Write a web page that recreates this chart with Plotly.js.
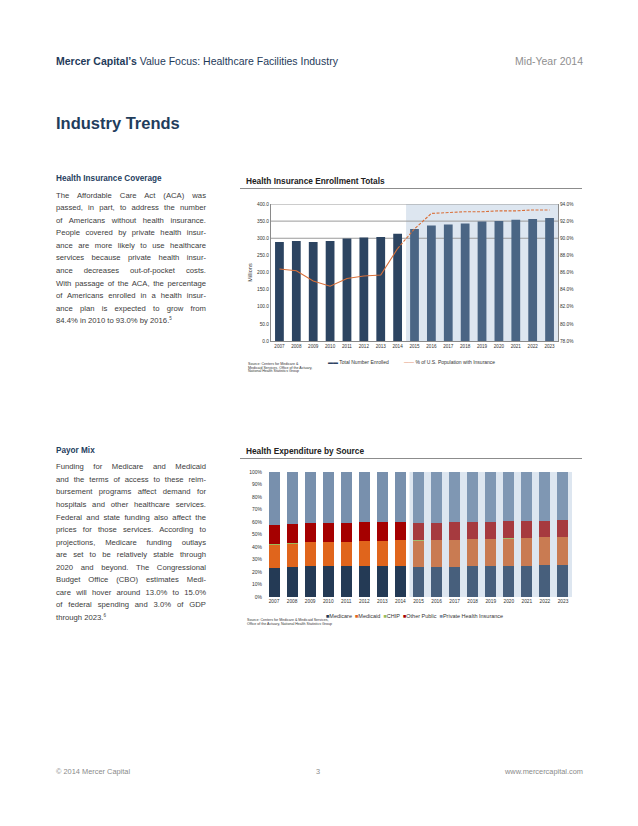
<!DOCTYPE html>
<html>
<head>
<meta charset="utf-8">
<script src="https://cdn.plot.ly/plotly-3.0.1.min.js"></script>
<style>
  html, body { margin:0; padding:0; background:#fff; }
  body { width:638px; height:826px; position:relative; overflow:hidden; font-family:"Liberation Sans", Arial, sans-serif; }
  .abs { position:absolute; white-space:nowrap; }
  .hdr { color:#1f3b5a; font-size:10.5px; line-height:12px; }
  .sec { color:#1f4060; font-weight:bold; font-size:8.2px; line-height:10px; }
  .body { position:absolute; left:56px; width:150px; color:#3c3c3c; font-size:7.7px; }
  .body div { height:12.55px; line-height:12.55px; text-align:justify; text-align-last:justify; white-space:nowrap; }
  .body div.last { text-align-last:left; }
  .ctitle { color:#222; font-weight:bold; font-size:8.3px; line-height:10px; }
  .rule { position:absolute; height:1px; background:#8c8c8c; }
  .src { color:#333; font-size:3.6px; line-height:3.4px; }
  .foot { color:#8a8a8a; font-size:7.4px; line-height:10px; }
  sup { font-size:4.5px; vertical-align:3px; line-height:0; }
</style>
</head>
<body>

<div class="abs hdr" style="left:56px; top:55px;"><b>Mercer Capital’s</b> Value Focus: Healthcare Facilities Industry</div>
<div class="abs hdr" style="right:55px; top:55px; color:#8f8f8f;">Mid-Year 2014</div>

<div class="abs" style="left:56px; top:113px; color:#1f3d5c; font-weight:bold; font-size:16.5px; line-height:20px;">Industry Trends</div>

<div class="abs sec" style="left:56px; top:174px;">Health Insurance Coverage</div>
<div class="body" style="top:189.7px;">
  <div>The Affordable Care Act (ACA) was</div>
  <div>passed, in part, to address the number</div>
  <div>of Americans without health insurance.</div>
  <div>People covered by private health insur-</div>
  <div>ance are more likely to use healthcare</div>
  <div>services because private health insur-</div>
  <div>ance decreases out-of-pocket costs.</div>
  <div>With passage of the ACA, the percentage</div>
  <div>of Americans enrolled in a health insur-</div>
  <div>ance plan is expected to grow from</div>
  <div class="last">84.4% in 2010 to 93.0% by 2016.<sup>5</sup></div>
</div>

<div class="abs sec" style="left:56px; top:445.7px;">Payor Mix</div>
<div class="body" style="top:461.4px;">
  <div>Funding for Medicare and Medicaid</div>
  <div>and the terms of access to these reim-</div>
  <div>bursement programs affect demand for</div>
  <div>hospitals and other healthcare services.</div>
  <div>Federal and state funding also affect the</div>
  <div>prices for those services. According to</div>
  <div>projections, Medicare funding outlays</div>
  <div>are set to be relatively stable through</div>
  <div>2020 and beyond. The Congressional</div>
  <div>Budget Office (CBO) estimates Medi-</div>
  <div>care will hover around 13.0% to 15.0%</div>
  <div>of federal spending and 3.0% of GDP</div>
  <div class="last">through 2023.<sup>6</sup></div>
</div>

<div class="abs ctitle" style="left:246px; top:175.7px;">Health Insurance Enrollment Totals</div>
<div class="rule" style="left:240px; width:342px; top:188px;"></div>
<div class="abs ctitle" style="left:246px; top:445.5px;">Health Expenditure by Source</div>
<div class="rule" style="left:240px; width:342px; top:458px;"></div>

<div id="chart1" style="position:absolute; left:230px; top:195px; width:370px; height:195px;"></div>
<div id="chart2" style="position:absolute; left:230px; top:462px; width:370px; height:175px;"></div>

<div class="abs src" style="left:248px; top:363.4px;">Source: Centers for Medicare &amp;<br>Medicaid Services, Office of the Actuary,<br>National Health Statistics Group</div>
<div class="abs src" style="left:247px; top:619.4px;">Source: Centers for Medicare &amp; Medicaid Services,<br>Office of the Actuary, National Health Statistics Group</div>

<div class="abs foot" style="left:56px; top:767px;">© 2014 Mercer Capital</div>
<div class="abs foot" style="left:316px; top:767px;">3</div>
<div class="abs foot" style="right:55px; top:767px;">www.mercercapital.com</div>

<script>
// ---------- data ----------
const years = ['2007','2008','2009','2010','2011','2012','2013','2014','2015','2016','2017','2018','2019','2020','2021','2022','2023'];
const firstProjectedYear = '2015';
const lastActualLineYear = '2014';

// Health Insurance Enrollment Totals
const totalEnrolled = [289, 292, 289, 292, 299, 302, 304, 313, 327, 337, 340, 343, 349, 350, 354, 356, 359]; // millions
const pctInsured = [86.4, 86.2, 85.0, 84.4, 85.3, 85.6, 85.7, 88.8, 91.1, 92.9, 93.0, 93.1, 93.1, 93.2, 93.2, 93.3, 93.3]; // %
const leftTicks = [0, 50, 100, 150, 200, 250, 300, 350, 400];
const rightTicks = [78, 80, 82, 84, 86, 88, 90, 92, 94];
const visibleGrid = [300, 350, 400];

// Health Expenditure by Source (share, %)
const medicare      = [23.3, 23.9, 24.7, 24.7, 24.7, 24.9, 24.7, 24.7, 23.9, 23.9, 23.9, 24.7, 24.7, 24.7, 24.9, 25.5, 25.5];
const medicaid      = [18.5, 18.7, 19.0, 19.3, 19.3, 19.6, 20.1, 20.9, 21.1, 21.4, 21.7, 21.7, 21.7, 21.9, 22.0, 22.2, 22.5];
const chip          = [0.4, 0.4, 0.4, 0.4, 0.4, 0.4, 0.4, 0.4, 0.3, 0.3, 0.3, 0.3, 0.3, 0.3, 0.3, 0.3, 0.3];
const otherPublic   = [15.4, 15.4, 15.4, 15.1, 15.1, 14.9, 15.1, 13.8, 13.9, 13.4, 14.2, 13.4, 13.4, 14.0, 13.9, 13.1, 13.4];
const privateIns    = [42.4, 41.6, 40.5, 40.5, 40.5, 40.2, 39.7, 40.2, 40.8, 41.0, 39.9, 39.9, 39.9, 39.1, 38.9, 38.9, 38.3];
const pctTicks = [0, 10, 20, 30, 40, 50, 60, 70, 80, 90, 100];

// ---------- styles ----------
const FONT = '"Liberation Sans", Arial, sans-serif';
const projIdx = years.indexOf(firstProjectedYear);
const isProj = years.map((y, i) => i >= projIdx);
const pick = (h, p) => isProj.map(f => f ? p : h);
const shadeColor = '#dde6f0';
const orange = '#d9703a';

// ---------- chart 1 ----------
const splitIdx = years.indexOf(lastActualLineYear);
const shapes1 = [{
  type:'rect', xref:'x', yref:'paper', x0: projIdx - 0.5, x1: years.length - 0.5, y0:0, y1:1,
  fillcolor: shadeColor, line:{width:0}, layer:'below'
}].concat(visibleGrid.map(v => ({
  type:'line', xref:'paper', yref:'y', x0:0, x1:1, y0:v, y1:v, line:{color:'#9a9a9a', width:1}, layer:'below'
})));

const traces1 = [
  { type:'bar', x:years, y:totalEnrolled, name:'Total Number Enrolled',
    marker:{ color: pick('#2c4461', '#4a6584') }, hoverinfo:'skip' },
  { type:'scatter', mode:'lines', x:years.slice(0, splitIdx + 1), y:pctInsured.slice(0, splitIdx + 1), yaxis:'y2',
    line:{ color:orange, width:1.1 }, name:'% of U.S. Population with Insurance' },
  { type:'scatter', mode:'lines', x:years.slice(splitIdx), y:pctInsured.slice(splitIdx), yaxis:'y2',
    line:{ color:orange, width:1.1, dash:'3px,1.5px' }, showlegend:false }
];

const plotL1 = 41, plotR1 = 42, plotW1 = 370 - plotL1 - plotR1;
const layout1 = {
  width:370, height:195, margin:{l:plotL1, r:plotR1, t:9, b:49},
  paper_bgcolor:'rgba(0,0,0,0)', plot_bgcolor:'rgba(0,0,0,0)',
  showlegend:false, bargap:0.48,
  font:{ family:FONT, color:'#333', size:5 },
  xaxis:{ type:'category', tickfont:{size:4.6}, showline:true, linecolor:'#8a8a8a', linewidth:1, ticks:'', showgrid:false, fixedrange:true },
  yaxis:{ range:[0, 400], tickvals:leftTicks, ticktext:leftTicks.map(v => v.toFixed(1)), tickfont:{size:4.8},
          showline:true, linecolor:'#8a8a8a', linewidth:1, showgrid:false, zeroline:false, ticks:'',
          title:{ text:'Millions', font:{size:5.5}, standoff:4 } },
  yaxis2:{ overlaying:'y', side:'right', range:[78, 94], tickvals:rightTicks, ticktext:rightTicks.map(v => v.toFixed(1) + '%'),
           tickfont:{size:4.8}, showline:true, linecolor:'#8a8a8a', linewidth:1, showgrid:false, zeroline:false, ticks:'' },
  shapes: shapes1,
  annotations:[
    { xref:'paper', yref:'paper', x:(326 - 270.6) / plotW1, y:-0.153, xanchor:'left', yanchor:'middle', showarrow:false,
      text:'<span style="color:#2c4461">▬▬</span> Total Number Enrolled', font:{size:5, color:'#333'} },
    { xref:'paper', yref:'paper', x:(402 - 270.6) / plotW1, y:-0.153, xanchor:'left', yanchor:'middle', showarrow:false,
      text:'<span style="color:' + orange + '">——</span> % of U.S. Population with Insurance', font:{size:5, color:'#333'} }
  ]
};
Plotly.newPlot('chart1', traces1, layout1, {displayModeBar:false, staticPlot:true});

// ---------- chart 2 ----------
const series2 = [
  { name:'Medicare', y:medicare, h:'#243a55', p:'#475f7c' },
  { name:'Medicaid', y:medicaid, h:'#e0651c', p:'#c97b52' },
  { name:'CHIP', y:chip, h:'#9bbb59', p:'#a3bf73' },
  { name:'Other Public', y:otherPublic, h:'#a50000', p:'#a63a3f' },
  { name:'Private Health Insurance', y:privateIns, h:'#7890ad', p:'#7f97b3' }
];
const traces2 = series2.map(s => ({
  type:'bar', x:years, y:s.y, name:s.name, marker:{ color: pick(s.h, s.p) }, hoverinfo:'skip'
}));
const plotL2 = 35, plotR2 = 28, plotW2 = 370 - plotL2 - plotR2;
const legendText2 = series2.map(s => '<span style="color:' + s.h + '">■</span>' + s.name).join('&nbsp;&nbsp;');
const layout2 = {
  width:370, height:175, margin:{l:plotL2, r:plotR2, t:10, b:40},
  paper_bgcolor:'rgba(0,0,0,0)', plot_bgcolor:'rgba(0,0,0,0)',
  showlegend:false, barmode:'stack', bargap:0.39,
  font:{ family:FONT, color:'#333', size:5 },
  xaxis:{ type:'category', tickfont:{size:4.8}, showline:false, ticks:'', showgrid:false, fixedrange:true },
  yaxis:{ range:[0, 100], tickvals:pctTicks, ticktext:pctTicks.map(v => v + '%'), tickfont:{size:5},
          showline:false, showgrid:false, zeroline:false, ticks:'', ticklabelstandoff:2 },
  shapes:[{ type:'rect', xref:'x', yref:'paper', x0: projIdx - 0.5, x1: years.length - 0.5, y0:0, y1:1,
            fillcolor: shadeColor, line:{width:0}, layer:'below' }],
  annotations:[
    { xref:'paper', yref:'paper', x:(324 - 264.6) / plotW2, y:-0.153, xanchor:'left', yanchor:'middle', showarrow:false,
      text:legendText2, font:{size:5.5, color:'#333'} }
  ]
};
Plotly.newPlot('chart2', traces2, layout2, {displayModeBar:false, staticPlot:true});
</script>
</body>
</html>
